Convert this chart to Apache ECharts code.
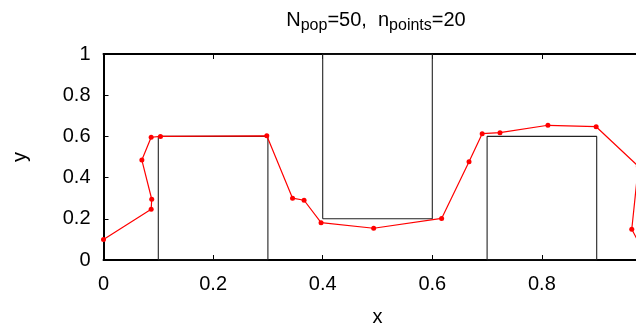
<!DOCTYPE html>
<html>
<head>
<meta charset="utf-8">
<script src="https://cdn.jsdelivr.net/npm/echarts@6/dist/echarts.min.js"></script>
<style>
  html, body { margin: 0; padding: 0; background: #fff; }
  #chart { width: 636px; height: 323px; }
</style>
</head>
<body>
<div id="chart"></div>
<script>
// red curve: the 20 points
const pointX = [0, 0.087, 0.088, 0.07, 0.087, 0.104, 0.298, 0.345, 0.366, 0.397, 0.493, 0.617, 0.667, 0.691, 0.7235, 0.811, 0.899, 0.976, 0.964, 0.99];
const pointY = [0.1, 0.246, 0.295, 0.485, 0.596, 0.6, 0.603, 0.3, 0.29, 0.181, 0.154, 0.202, 0.477, 0.613, 0.618, 0.654, 0.647, 0.455, 0.149, 0.02];

// black target boxes
const boxLeft = [0.1, 0.4, 0.7];
const boxRight = [0.3, 0.6, 0.9];
const boxBottom = [0, 0.2, 0];
const boxTop = [0.6, 1, 0.6];

const xTicks = [0, 0.2, 0.4, 0.6, 0.8, 1];
const yTicks = [0, 0.2, 0.4, 0.6, 0.8, 1];

const font = "Liberation Sans, Arial, sans-serif";

const chart = echarts.init(document.getElementById("chart"));

const boxSeries = boxLeft.map((l, i) => ({
  type: "line",
  xAxisIndex: 0,
  data: [
    [l, boxBottom[i]],
    [l, boxTop[i]],
    [boxRight[i], boxTop[i]],
    [boxRight[i], boxBottom[i]],
    [l, boxBottom[i]],
  ],
  showSymbol: false,
  silent: true,
  lineStyle: { color: "#222", width: 1.1 },
  z: 2,
}));

const pointSeries = {
  type: "line",
  xAxisIndex: 0,
  data: pointX.map((x, i) => [x, pointY[i]]),
  symbol: "circle",
  symbolSize: 5,
  itemStyle: { color: "#ff0000" },
  lineStyle: { color: "#ff0000", width: 1.2 },
  z: 3,
};

const axisCommon = {
  type: "value",
  min: 0,
  max: 1,
  interval: 0.2,
  splitLine: { show: false },
  axisLine: { show: true, lineStyle: { color: "#000", width: 2 } },
  axisTick: { show: true, inside: true, length: 5, lineStyle: { color: "#000", width: 1 } },
};

chart.setOption({
  animation: false,
  title: {
    text: "{n|N}{s|pop}{n|=50,  n}{s|points}{n|=20}",
    left: 376,
    textAlign: "center",
    top: 6,
    padding: 0,
    textStyle: {
      fontWeight: "normal",
      rich: {
        n: { fontFamily: font, fontSize: 20, fontWeight: "normal", color: "#000", lineHeight: 28 },
        s: { fontFamily: font, fontSize: 16, fontWeight: "normal", color: "#000", lineHeight: 16, verticalAlign: "bottom" },
      },
    },
  },
  grid: { left: 103.5, top: 54, width: 548, height: 206, outerBoundsMode: "none", containLabel: false },
  xAxis: [
    {
      ...axisCommon,
      position: "bottom",
      name: "x",
      nameLocation: "middle",
      nameGap: 47,
      nameTextStyle: { fontFamily: font, fontSize: 20, color: "#000" },
      axisLabel: {
        fontFamily: font,
        fontSize: 20,
        color: "#000",
        margin: 14,
        formatter: (v) => (xTicks.includes(+v.toFixed(1)) ? String(+v.toFixed(1)) : ""),
      },
    },
    {
      ...axisCommon,
      position: "top",
      axisLabel: { show: false },
    },
  ],
  yAxis: {
    ...axisCommon,
    name: "y",
    nameLocation: "middle",
    nameRotate: 90,
    nameGap: 73,
    nameTextStyle: { fontFamily: font, fontSize: 20, color: "#000" },
    axisLabel: {
      fontFamily: font,
      fontSize: 20,
      color: "#000",
      margin: 13,
      formatter: (v) => (yTicks.includes(+v.toFixed(1)) ? String(+v.toFixed(1)) : ""),
    },
  },
  series: [...boxSeries, pointSeries],
});
</script>
</body>
</html>
